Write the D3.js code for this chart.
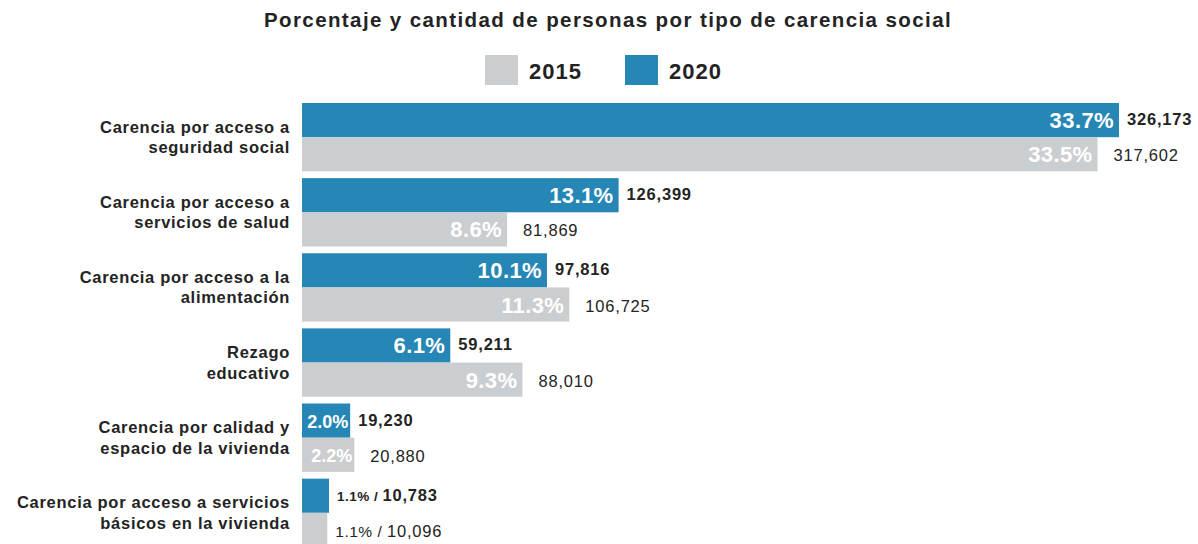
<!DOCTYPE html>
<html>
<head>
<meta charset="utf-8">
<script src="https://cdn.jsdelivr.net/npm/d3@7"></script>
<style>
  body { margin: 0; background: #fff; }
  text { font-family: "Liberation Sans", Arial, sans-serif; }
</style>
</head>
<body>
<svg id="chart" width="1198" height="544"></svg>
<script>
// data
const categories = [
    ["Carencia por acceso a", "seguridad social"],
    ["Carencia por acceso a", "servicios de salud"],
    ["Carencia por acceso a la", "alimentación"],
    ["Rezago", "educativo"],
    ["Carencia por calidad y", "espacio de la vivienda"],
    ["Carencia por acceso a servicios", "básicos en la vivienda"]
];
const pct2020 = [33.7, 13.1, 10.1, 6.1, 2.0, 1.1];
const pct2015 = [33.5, 8.6, 11.3, 9.3, 2.2, 1.1];
const count2020 = [326173, 126399, 97816, 59211, 19230, 10783];
const count2015 = [317602, 81869, 106725, 88010, 20880, 10096];
const years = ["2020", "2015"];

const colors = { "2020": "#2686b6", "2015": "#cbced1" };
const textColor = "#232323";
const fmt = d3.format(",");

const svg = d3.select("#chart");

// title
svg.append("text")
    .attr("x", 608)
    .attr("y", 27)
    .attr("text-anchor", "middle")
    .style("font-size", "20.5px")
    .style("font-weight", "bold")
    .style("letter-spacing", "1.4px")
    .attr("fill", textColor)
    .text("Porcentaje y cantidad de personas por tipo de carencia social");

// legend
const legendItems = [
    { year: "2015", x: 485 },
    { year: "2020", x: 625 }
];
const legend = svg.selectAll("g.legend")
    .data(legendItems)
    .enter().append("g")
    .attr("class", "legend")
    .attr("transform", d => `translate(${d.x},55)`);
legend.append("rect")
    .attr("width", 33)
    .attr("height", 30)
    .attr("fill", d => colors[d.year]);
legend.append("text")
    .attr("x", 44)
    .attr("y", 24)
    .style("font-size", "22px")
    .style("font-weight", "bold")
    .style("letter-spacing", "1px")
    .attr("fill", textColor)
    .text(d => d.year);

// build rows
const rows = categories.map((c, i) => ({
    key: i,
    label: c,
    values: [
        { year: "2020", pct: pct2020[i], count: count2020[i] },
        { year: "2015", pct: pct2015[i], count: count2015[i] }
    ]
}));

const x = d3.scaleLinear()
    .domain([0, d3.max(count2020)])
    .range([302, 1119]);

const y = d3.scaleBand()
    .domain(rows.map(d => d.key))
    .range([103, 547])
    .paddingInner(0.09)
    .paddingOuter(0);

const ySub = d3.scaleBand()
    .domain(years)
    .range([0, y.bandwidth()])
    .padding(0);

const groups = svg.selectAll("g.group")
    .data(rows)
    .enter().append("g")
    .attr("class", "group")
    .attr("transform", d => `translate(0,${y(d.key)})`);

// category labels
groups.append("text")
    .attr("x", 290)
    .attr("y", y.bandwidth() / 2 - 3)
    .attr("text-anchor", "end")
    .style("font-size", "16.5px")
    .style("font-weight", "bold")
    .style("letter-spacing", "0.7px")
    .attr("fill", textColor)
    .selectAll("tspan")
    .data(d => d.label)
    .enter().append("tspan")
    .attr("x", 290)
    .attr("dy", (d, i) => i === 0 ? "-0.1em" : "1.25em")
    .text(d => d);

const bars = groups.selectAll("g.bar")
    .data(d => d.values.map(v => Object.assign({ row: d.key }, v)))
    .enter().append("g")
    .attr("class", "bar")
    .attr("transform", d => `translate(0,${ySub(d.year)})`);

bars.append("rect")
    .attr("x", x(0))
    .attr("width", d => x(d.count) - x(0))
    .attr("height", ySub.bandwidth())
    .attr("fill", d => colors[d.year]);

const last = rows.length - 1;

// percentage inside bar (smaller type when the bar is short)
bars.filter(d => d.row !== last)
    .append("text")
    .attr("x", d => x(d.count) - (x(d.count) - x(0) < 80 ? 2 : 5))
    .attr("y", d => ySub.bandwidth() / 2 + (x(d.count) - x(0) < 80 ? 7 : 8))
    .attr("text-anchor", "end")
    .style("font-size", d => x(d.count) - x(0) < 80 ? "18px" : "22px")
    .style("font-weight", "bold")
    .style("letter-spacing", d => x(d.count) - x(0) < 80 ? "0px" : "0.4px")
    .attr("fill", "#fff")
    .text(d => d.pct.toFixed(1) + "%");

// count outside bar
bars.filter(d => d.row !== last)
    .append("text")
    .attr("x", d => x(d.count) + (d.year === "2020" ? 8 : 16))
    .attr("y", d => ySub.bandwidth() / 2 + (d.year === "2020" ? 5 : 7))
    .style("font-size", "16.5px")
    .style("font-weight", d => d.year === "2020" ? "bold" : "normal")
    .style("letter-spacing", "0.8px")
    .attr("fill", textColor)
    .text(d => fmt(d.count));

// last row: "pct / count" outside
const lastText = bars.filter(d => d.row === last)
    .append("text")
    .attr("x", d => x(d.count) + 8)
    .attr("y", d => ySub.bandwidth() / 2 + (d.year === "2020" ? 5 : 7))
    .attr("fill", textColor);
lastText.append("tspan")
    .style("font-size", d => d.year === "2020" ? "13.5px" : "15.5px")
    .style("font-weight", d => d.year === "2020" ? "bold" : "normal")
    .style("letter-spacing", "0.5px")
    .text(d => d.pct.toFixed(1) + "% / ");
lastText.append("tspan")
    .style("font-size", "16.5px")
    .style("font-weight", d => d.year === "2020" ? "bold" : "normal")
    .style("letter-spacing", "0.8px")
    .text(d => fmt(d.count));
</script>
</body>
</html>
